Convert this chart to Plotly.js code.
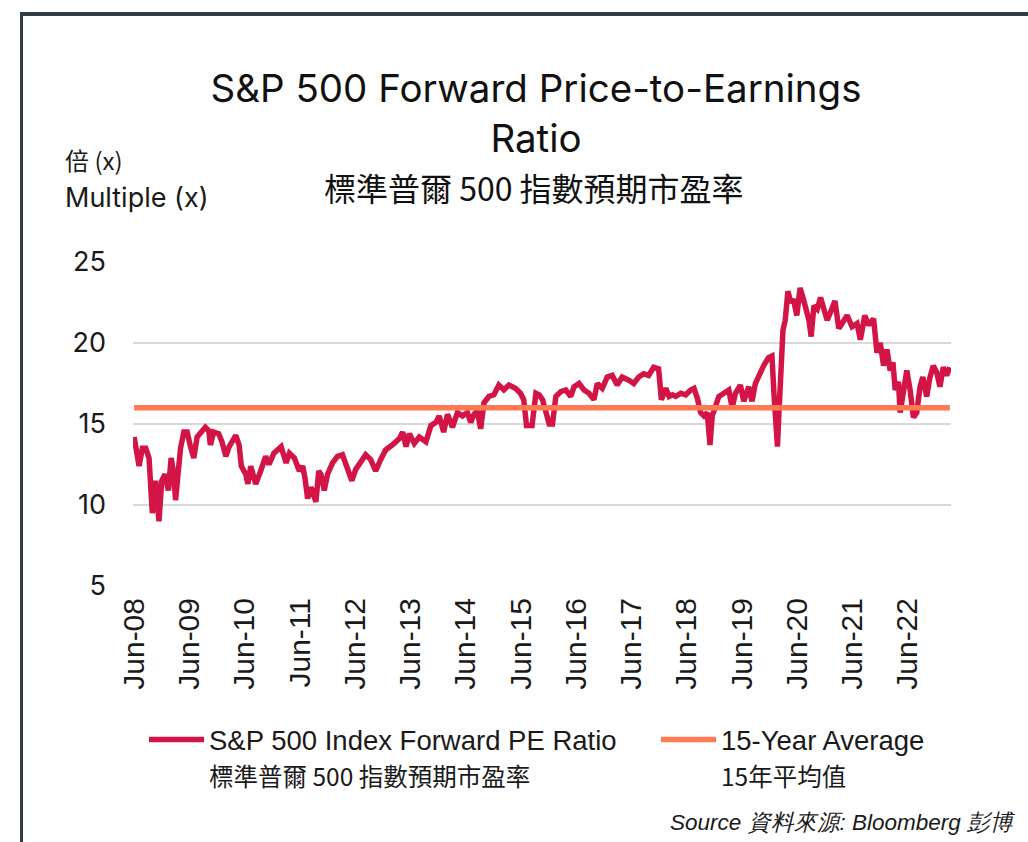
<!DOCTYPE html>
<html>
<head>
<meta charset="utf-8">
<script src="https://cdn.plot.ly/plotly-3.0.1.min.js"></script>
<style>
html,body{margin:0;padding:0;background:#fff;}
#chart{position:absolute;left:0;top:0;width:1028px;height:842px;}
#frame{position:absolute;left:20px;top:12px;width:1008px;height:830px;border-top:4px solid #323c46;border-left:3px solid #323c46;box-sizing:border-box;pointer-events:none;}
</style>
</head>
<body>
<div id="chart"></div>
<div id="frame"></div>
<script>
// ---- data (x = decimal year, y = forward P/E multiple) ----
const years = [
  2008.42,2008.46,2008.51,2008.57,2008.63,2008.69,2008.72,2008.75,2008.81,2008.87,
  2008.92,2008.98,2009.04,2009.09,2009.13,2009.17,2009.22,2009.26,2009.32,2009.38,
  2009.44,2009.50,2009.56,2009.62,2009.71,2009.77,2009.80,2009.86,2009.95,2010.01,
  2010.08,2010.14,2010.26,2010.32,2010.36,2010.44,2010.48,2010.53,2010.62,2010.71,
  2010.80,2010.86,2010.95,2011.08,2011.17,2011.23,2011.32,2011.41,2011.47,2011.51,
  2011.56,2011.62,2011.71,2011.76,2011.80,2011.86,2011.92,2012.01,2012.10,2012.19,
  2012.28,2012.36,2012.43,2012.52,2012.61,2012.70,2012.79,2012.88,2012.97,2013.09,
  2013.19,2013.22,2013.28,2013.34,2013.40,2013.49,2013.58,2013.70,2013.79,2013.88,
  2013.94,2014.02,2014.09,2014.18,2014.27,2014.36,2014.45,2014.51,2014.57,2014.63,
  2014.69,2014.75,2014.84,2014.93,2015.02,2015.11,2015.20,2015.32,2015.41,2015.47,
  2015.52,2015.62,2015.69,2015.75,2015.81,2015.87,2015.93,2015.99,2016.05,2016.14,
  2016.23,2016.32,2016.38,2016.47,2016.56,2016.65,2016.74,2016.80,2016.89,2016.98,
  2017.07,2017.16,2017.25,2017.37,2017.46,2017.55,2017.64,2017.73,2017.82,2017.91,
  2017.96,2018.04,2018.10,2018.16,2018.22,2018.31,2018.40,2018.49,2018.55,2018.61,
  2018.67,2018.73,2018.79,2018.84,2018.88,2018.94,2019.00,2019.09,2019.18,2019.24,
  2019.30,2019.39,2019.45,2019.54,2019.60,2019.66,2019.72,2019.81,2019.90,2019.96,
  2020.00,2020.04,2020.06,2020.09,2020.13,2020.16,2020.20,2020.25,2020.30,2020.35,
  2020.41,2020.47,2020.53,2020.57,2020.63,2020.67,2020.72,2020.78,2020.84,2020.90,
  2020.96,2021.02,2021.10,2021.17,2021.23,2021.32,2021.41,2021.50,2021.56,2021.64,
  2021.71,2021.80,2021.86,2021.92,2021.98,2022.04,2022.10,2022.15,2022.19,2022.25,
  2022.28,2022.34,2022.40,2022.46,2022.52,2022.58,2022.64,2022.69,2022.76,2022.82,
  2022.88,2022.94,2023.00,2023.06,2023.12,2023.18
];
const forwardPE = [
  14.2,13.2,12.4,13.5,13.5,12.9,11.5,9.5,11.5,9.0,
  11.5,11.9,10.9,12.9,12.1,10.3,12.1,13.5,14.5,14.5,
  13.6,12.9,14.2,14.4,14.8,14.6,13.7,14.5,14.4,13.9,
  13.0,13.6,14.3,13.7,12.4,11.9,11.3,12.4,11.3,12.1,
  13.0,12.5,13.2,13.6,12.6,13.2,12.9,12.1,12.4,11.7,
  10.4,11.1,10.2,12.1,11.9,10.9,11.9,12.6,13.0,13.1,
  12.1,11.5,12.2,12.7,13.1,12.8,12.1,12.8,13.4,13.7,
  14.1,14.1,14.5,13.6,14.4,13.8,14.2,13.9,14.9,15.1,
  15.5,14.5,15.6,14.8,15.7,15.5,15.7,15.1,15.6,15.8,
  14.7,16.3,16.7,16.8,17.4,17.1,17.4,17.2,16.9,16.5,
  14.9,14.9,16.9,16.8,16.5,15.7,15.0,15.0,16.7,17.0,
  17.1,16.7,17.3,17.5,17.1,16.9,16.5,17.5,17.2,17.9,
  18.0,17.4,17.9,17.7,17.5,17.9,18.1,18.0,18.5,18.4,
  16.5,17.2,16.7,16.8,16.7,16.9,16.8,17.1,17.2,16.6,
  15.7,15.5,15.7,13.7,15.5,16.1,16.7,16.9,17.1,16.0,
  16.9,17.4,16.4,17.3,16.4,17.5,18.0,18.6,19.1,19.2,
  16.7,14.0,13.6,15.9,19.2,20.8,21.4,23.2,22.5,22.7,
  21.7,23.4,22.7,22.1,21.4,20.4,22.3,22.1,22.8,22.1,
  21.4,21.9,22.6,20.9,21.2,21.7,21.0,21.2,20.2,21.7,
  21.1,21.5,19.4,20.0,18.6,19.6,18.3,18.8,17.1,17.6,
  15.7,16.9,18.3,17.1,15.4,15.7,17.3,17.9,16.7,17.9,
  18.6,18.2,17.3,18.5,18.0,18.5
];
const averagePE = 16.0;
const tickYears  = [2008.417,2009.417,2010.417,2011.417,2012.417,2013.417,2014.417,2015.417,2016.417,2017.417,2018.417,2019.417,2020.417,2021.417,2022.417];
const tickLabels = ["Jun-08","Jun-09","Jun-10","Jun-11","Jun-12","Jun-13","Jun-14","Jun-15","Jun-16","Jun-17","Jun-18","Jun-19","Jun-20","Jun-21","Jun-22"];
const yTicks = [5,10,15,20,25];

// ---- layout helpers (pixel -> paper) ----
const M = {l:133, r:77, t:262, b:256, autoexpand:false};
const PW = 1028 - M.l - M.r, PH = 842 - M.t - M.b;
const px = v => (v - M.l) / PW;
const py = v => (842 - M.b - v) / PH;

const sans = 'Inter, "Noto Sans CJK TC", sans-serif';
const cjk = '"Noto Sans CJK TC", "Noto Sans", sans-serif';
const legFont = {family: '"Liberation Sans", Arial, sans-serif', size: 27.5, color: '#1a1a1a'};
const sub = '<span style="font-size:24.5px;font-family:\'Noto Sans CJK TC\'">';

const traces = [
  {
    x: years, y: forwardPE, type: 'scatter', mode: 'lines',
    line: {color: '#d31446', width: 5.5},
    legend: 'legend',
    name: 'S&amp;P 500 Index Forward PE Ratio<br>' + sub + '標準普爾 500 指數預期市盈率</span>'
  },
  {
    x: [years[0], years[years.length - 1]], y: [averagePE, averagePE],
    type: 'scatter', mode: 'lines',
    line: {color: '#ff7a50', width: 5.5},
    legend: 'legend2',
    name: '15-Year Average<br>' + sub + '15年平均值</span>'
  }
];

const legendBase = {
  orientation: 'h', xanchor: 'left', yanchor: 'top', valign: 'top',
  itemwidth: 55,
  font: legFont, bgcolor: 'rgba(0,0,0,0)', borderwidth: 0
};

const layout = {
  width: 1028, height: 842,
  margin: M,
  paper_bgcolor: '#ffffff', plot_bgcolor: '#ffffff',
  showlegend: true,
  hovermode: false,
  title: {
    text: 'S&amp;P 500 Forward Price-to-Earnings<br>Ratio',
    font: {family: sans, size: 38.5, color: '#111111'},
    xref: 'container', x: 536 / 1028, xanchor: 'center',
    yref: 'container', y: 1 - 102 / 842, yanchor: 'top'
  },
  xaxis: {
    range: [2008.40, 2023.20],
    tickmode: 'array', tickvals: tickYears, ticktext: tickLabels,
    tickangle: -90,
    tickfont: {family: '"Liberation Sans", Arial, sans-serif', size: 30, color: '#1a1a1a'},
    ticklabelstandoff: 5,
    showgrid: false, zeroline: false, showline: false, ticks: ''
  },
  yaxis: {
    range: [5, 25],
    tickmode: 'array', tickvals: yTicks,
    tickfont: {family: sans, size: 27, color: '#1a1a1a'},
    ticklabelstandoff: 26,
    showgrid: true, gridcolor: '#d9d9d9', gridwidth: 1.5,
    zeroline: false, showline: false, ticks: ''
  },
  legend: Object.assign({}, legendBase, {x: px(144), y: py(715)}),
  legend2: Object.assign({}, legendBase, {x: px(656), y: py(715)}),
  annotations: [
    {text: '標準普爾 500 指數預期市盈率', xref: 'paper', yref: 'paper', x: px(534), y: py(187),
     xanchor: 'center', yanchor: 'middle', showarrow: false,
     font: {family: cjk, size: 32, color: '#111111'}},
    {text: '倍 (x)', xref: 'paper', yref: 'paper', x: px(63), y: py(160),
     xanchor: 'left', yanchor: 'middle', showarrow: false,
     font: {family: cjk, size: 24, color: '#1a1a1a'}},
    {text: 'Multiple (x)', xref: 'paper', yref: 'paper', x: px(63), y: py(197),
     xanchor: 'left', yanchor: 'middle', showarrow: false,
     font: {family: sans, size: 27, color: '#1a1a1a'}},
    {text: '<i>Source 資料來源: Bloomberg 彭博</i>', xref: 'paper', yref: 'paper', x: px(1018), y: py(822),
     xanchor: 'right', yanchor: 'middle', showarrow: false,
     font: {family: '"Liberation Sans", Arial, sans-serif', size: 22.5, color: '#1a1a1a'}}
  ]
};

Plotly.newPlot('chart', traces, layout, {displayModeBar: false, staticPlot: true});
</script>
</body>
</html>
